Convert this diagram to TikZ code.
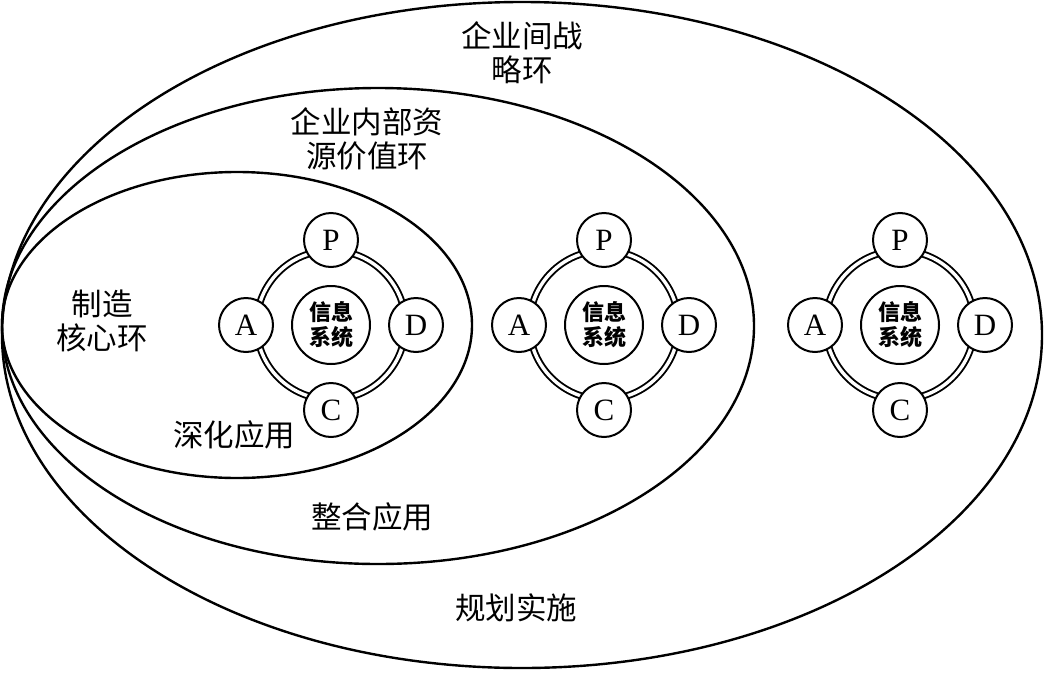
\documentclass[tikz,border=0pt]{standalone}
\usepackage{fontspec}
\setmainfont{Liberation Serif}
\newfontfamily\cjk{Noto Sans CJK SC}
\usetikzlibrary{positioning}

\begin{document}
\begin{tikzpicture}[x=1pt, y=-1pt,
    ring/.style={line width=2.4pt},
    lbl/.style={font=\cjk\fontsize{30.5}{34}\selectfont, align=center, inner sep=0pt},
    phase/.style={circle, draw, line width=2pt, fill=white, minimum size=54pt, inner sep=0pt, font=\fontsize{31}{31}\selectfont},
    core/.style={circle, draw, line width=2pt, minimum size=78pt, inner sep=0pt, align=center, font=\cjk\bfseries\fontsize{22}{25}\selectfont},
    loopring/.style={double, double distance=3.4pt, line width=1.9pt}
  ]
  \useasboundingbox (0,0) rectangle (1046,672);
  % the three nested rings, all touching on the left
  \draw[ring] (522,335) ellipse [x radius=520, y radius=333];
  \draw[ring] (378,326) ellipse [x radius=376, y radius=238];
  \draw[ring] (237,325) ellipse [x radius=235, y radius=153];
  % ring labels
  \node[lbl] (strat) at (522,53) {企业间战\\略环};
  \node[lbl] (value) at (367,139) {企业内部资\\源价值环};
  \node[lbl] (core) at (102,321) {制造\\核心环};
  \node[lbl] (deep) at (234,435) {深化应用};
  \node[lbl] (integ) at (372,517) {整合应用};
  \node[lbl] (plan) at (516,608) {规划实施};
  % PDCA loops around the information system
  \foreach \n/\cx in {a/331, b/604, c/900} {
    \node[core] (sys\n) at (\cx,325) {信息\\系统};
    \draw[loopring] (sys\n.center) circle [radius=74.5];
    \node[phase, above=17pt of sys\n] (p\n) {P};
    \node[phase, right=17pt of sys\n] (d\n) {D};
    \node[phase, below=17pt of sys\n] (c\n) {C};
    \node[phase, left=17pt of sys\n] (a\n) {A};
  }
\end{tikzpicture}
\end{document}
